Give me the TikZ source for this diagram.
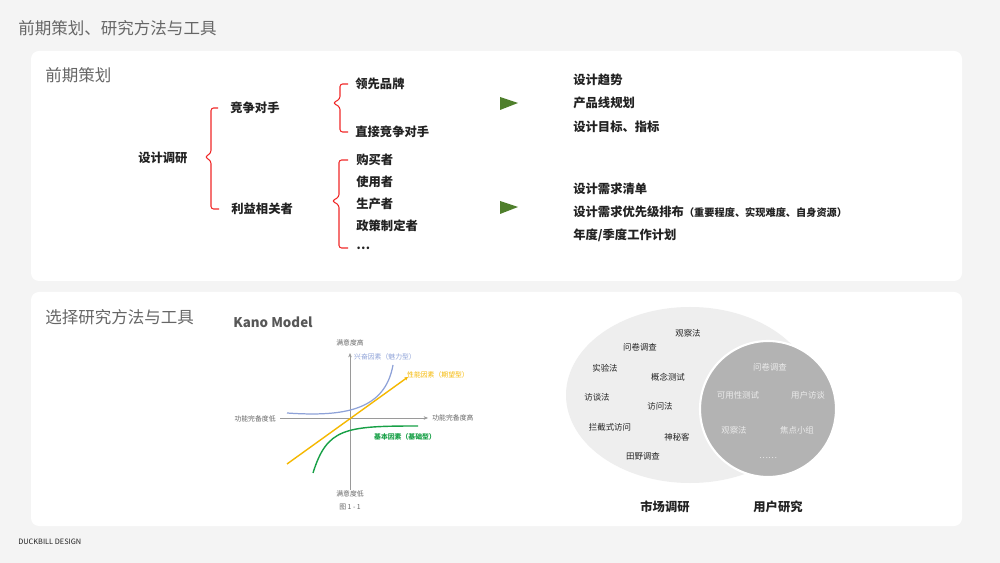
\documentclass[tikz,border=0pt]{standalone}
\usepackage{fontspec}
\setmainfont{Noto Sans CJK SC}
\usetikzlibrary{arrows.meta,calc}

\definecolor{pagebg}{HTML}{F4F4F4}
\definecolor{headgray}{HTML}{666666}
\definecolor{ink}{HTML}{222222}
\definecolor{bracered}{HTML}{F02828}
\definecolor{pointgreen}{HTML}{4F7F2C}
\definecolor{kanoblue}{HTML}{8EA2D8}
\definecolor{kanoyellow}{HTML}{F5B800}
\definecolor{kanogreen}{HTML}{17A046}
\definecolor{axisgray}{HTML}{9A9A9A}
\definecolor{marketfill}{HTML}{EEEEEE}
\definecolor{userfill}{HTML}{B3B3B3}

\begin{document}
\begin{tikzpicture}[x=0.02cm, y=-0.02cm,
  panel/.style={fill=white, rounded corners=0.16cm},
  head/.style={anchor=west, inner sep=0, text=headgray, font=\fontsize{9.4}{10}\selectfont},
  item/.style={anchor=west, inner sep=0, text=ink, font=\fontsize{7}{8}\selectfont\bfseries},
  brace/.style={draw=bracered, line width=0.6pt, rounded corners=1.5pt},
  tiny/.style={inner sep=0, text=headgray, font=\fontsize{3.9}{4}\selectfont},
  axis/.style={draw=axisgray, line width=0.3pt, -{Stealth[length=2.5pt,width=2pt]}},
  mtext/.style={inner sep=0, text=ink, font=\fontsize{4.8}{5}\selectfont},
  utext/.style={inner sep=0, text=white!92!black, font=\fontsize{4.8}{5}\selectfont},
  venn/.style={inner sep=0, text=ink, font=\fontsize{7}{8}\selectfont\bfseries}]

\useasboundingbox (0,0) rectangle (1000,563);
\fill[pagebg] (0,0) rectangle (1000,563);

% the two white panels
\fill[panel] (31,51) rectangle (962,281);
\fill[panel] (31,292) rectangle (962,526);

% headings
\node[head] (title) at (18,28) {前期策划、研究方法与工具};
\node[head] (plan) at (45,75) {前期策划};
\node[head] (tools) at (45,317) {选择研究方法与工具};
\node[anchor=west, inner sep=0, text=ink, font=\fontsize{4.2}{5}\selectfont] (brand) at (18,542) {DUCKBILL DESIGN};

% mind map of the research
\node[item] (dy) at (138,158) {设计调研};
\node[item] (jz) at (230,108) {竞争对手};
\node[item] (ly) at (231,209) {利益相关者};
\node[item] (lx) at (355,84) {领先品牌};
\node[item] (zj) at (355,132) {直接竞争对手};
\foreach \t [count=\k] in {购买者,使用者,生产者,政策制定者,\ldots} {
    \node[item] (st\k) at (356,160 + 22*\k - 22) {\t};
}

% red brackets
\coordinate (b1) at (205,157);
\coordinate (b2) at (333,103);
\coordinate (b3) at (332,201);
\draw[brace] ([xshift=-0.24cm]jz.west) -| ($(b1)+(6,-4)$) -- (b1) -- ($(b1)+(6,4)$) |- ([xshift=-0.24cm]ly.west);
\draw[brace] ([xshift=-0.14cm]lx.west) -| ($(b2)+(7,-4)$) -- (b2) -- ($(b2)+(7,4)$) |- ([xshift=-0.14cm]zj.west);
\draw[brace] ([xshift=-0.16cm]st1.west) -| ($(b3)+(7,-4)$) -- (b3) -- ($(b3)+(7,4)$) |- ([xshift=-0.16cm]st5.west);

% green pointers
\fill[pointgreen] (500,97) -- (518,103) -- (500,110) -- cycle;
\fill[pointgreen] (500,201) -- (518,207) -- (500,214) -- cycle;

% outputs
\foreach \t/\y [count=\k] in {设计趋势/80, 产品线规划/103, 设计目标、指标/127} {
    \node[item] (out\k) at (573,\y) {\t};
}
\node[item] (need) at (573,189) {设计需求清单};
\node[item] (prio) at (573,212) {设计需求优先级排布{\fontsize{5.8}{6}\selectfont（重要程度、实现难度、自身资源）}};
\node[item] (year) at (573,235) {年度/季度工作计划};

% Kano model
\node[anchor=west, inner sep=0, text=headgray!85!black, font=\fontsize{7.6}{8}\selectfont\bfseries] (kano) at (233,322) {Kano Model};
\coordinate (o) at (350,418);
\coordinate (vb) at (350,490);
\coordinate (vt) at (350,353);
\coordinate (hl) at (280,418);
\coordinate (hr) at (428,418);
\draw[axis] (vb) -- (vt);
\draw[axis] (hl) -- (hr);
\node[tiny] (hi) at (350,343) {满意度高};
\node[tiny] (lo) at (350,494) {满意度低};
\node[tiny, anchor=east] (fl) at (276,419) {功能完备度低};
\node[tiny, anchor=west] (fh) at (432,418) {功能完备度高};
\node[tiny] (fig) at (350,507) {图 1 - 1};

\draw[kanoblue, line width=0.7pt] (287,413) .. controls (345,417) and (385,410) .. (393,365);
\draw[kanoyellow, line width=0.8pt, -{Stealth[length=2pt,width=2pt]}] (287,464) -- (408,377);
\draw[kanogreen, line width=0.8pt] (313,473) .. controls (327,428) and (345,426) .. (418,426);
\node[tiny, text=kanoblue] (exc) at (385,357) {兴奋因素（魅力型）};
\node[tiny, text=kanoyellow] (perf) at (438,375) {性能因素（期望型）};
\node[tiny, text=kanogreen, font=\fontsize{3.9}{4}\selectfont\bfseries] (base) at (405,437) {基本因素（基础型）};

% market research vs user research
\fill[marketfill] (690,395) ellipse [x radius=124, y radius=88];
\filldraw[fill=userfill, draw=white, line width=1.2pt] (768,409) circle [radius=68];
\foreach \x/\y/\t [count=\k] in {688/333/观察法, 640/347/问卷调查, 605/368/实验法, 668/377/概念测试,
    597/397/访谈法, 660/406/访问法, 610/427/拦截式访问, 677/437/神秘客, 643/456/田野调查} {
    \node[mtext] (m\k) at (\x,\y) {\t};
}
\foreach \x/\y/\t [count=\k] in {770/367/问卷调查, 738/395/可用性测试, 808/395/用户访谈,
    734/430/观察法, 797/430/焦点小组, 768/458/\ldots\ldots} {
    \node[utext] (u\k) at (\x,\y) {\t};
}
\node[venn] (market) at (665,507) {市场调研};
\node[venn] (user) at (778,507) {用户研究};

\end{tikzpicture}
\end{document}
